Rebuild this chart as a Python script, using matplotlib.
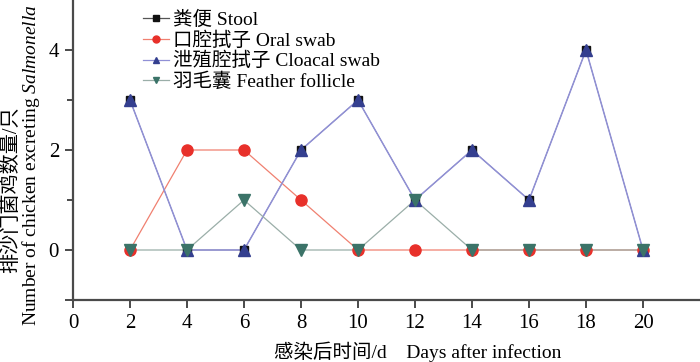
import matplotlib
matplotlib.use("Agg")
import matplotlib.pyplot as plt
from matplotlib.ticker import FixedLocator

plt.rcParams['font.family'] = ['Liberation Serif', 'Noto Sans CJK SC']
plt.rcParams['mathtext.fontset'] = 'custom'
plt.rcParams['mathtext.rm'] = 'Liberation Serif'
plt.rcParams['mathtext.it'] = 'Liberation Serif:italic'

days = [2, 4, 6, 8, 10, 12, 14, 16, 18, 20]
stool = [3, 0, 0, 2, 3, 1, 2, 1, 4, 0]
oral = [0, 2, 2, 1, 0, 0, 0, 0, 0, 0]
cloacal = [3, 0, 0, 2, 3, 1, 2, 1, 4, 0]
feather = [0, 0, 1, 0, 0, 1, 0, 0, 0, 0]

labels = ["粪便 Stool", "口腔拭子 Oral swab", "泄殖腔拭子 Cloacal swab", "羽毛囊 Feather follicle"]

fig = plt.figure(figsize=(7, 3.62), dpi=100)
ax = fig.add_axes([73 / 700, 62 / 362, 627 / 700, 300 / 362])

# 线在下, 标记在上
series = [
    (stool, "s", "#111111", "#555555", 5.5, 0.5),
    (oral, "o", "#e8302a", "#f08070", 8, 0.9),
    (cloacal, "^", "#343f8f", "#9090d6", 8, 1.1),
    (feather, "v", "#3b7368", "#9aaea8", 8, 0.9),
]
handles = []
for i, (vals, mk, mc, lc, ms, lw) in enumerate(series):
    ax.plot(days, vals, color=lc, lw=lw, zorder=2 + i * 0.1)
    h, = ax.plot([], [], color=lc, lw=0.9, marker=mk, mfc=mc, mec=mc, ms=5)
    handles.append(h)

marker_order = [2, 0, 1, 3]
for i in marker_order:
    vals, mk, mc, lc, ms, lw = series[i]
    ax.plot(days, vals, ls="none", marker=mk, mfc=mc, mec=mc, ms=ms, zorder=4 + i * 0.1)

ax.set_xlim(0, 22)
ax.set_ylim(-1, 5)
ax.set_xticks(range(0, 21, 2))
ax.yaxis.set_major_locator(FixedLocator([-1, 0, 2, 4]))
ax.set_yticklabels(["", "0", "2", "4"])
ax.yaxis.set_minor_locator(FixedLocator([1, 3]))

for s in ["top", "right"]:
    ax.spines[s].set_visible(False)
for s in ["left", "bottom"]:
    ax.spines[s].set_color("#4a4a4a")
    ax.spines[s].set_linewidth(1.6)
ax.tick_params(which="major", direction="out", length=6, width=1.4, color="#4a4a4a",
               labelsize=15, pad=4)
ax.tick_params(which="minor", direction="out", length=4, width=1.4, color="#4a4a4a")

ax.set_xlabel("感染后时间/d    Days after infection", fontsize=14)
ax.xaxis.set_label_coords(0.55, -0.14)

fig.text(12 / 700, 1 - 190 / 362, "排沙门菌鸡数量/只", rotation=90, fontsize=14.5,
         ha="center", va="center")
fig.text(31 / 700, 1 - 165 / 362, r"Number of chicken excreting $\mathit{Salmonella}$",
         rotation=90, fontsize=14, ha="center", va="center")

ax.legend(handles, labels, loc="upper left", bbox_to_anchor=(0.1, 0.99), frameon=False,
          fontsize=14, handlelength=1.3, handletextpad=0.2, labelspacing=0.12,
          borderaxespad=0)

fig.savefig("out.png", dpi=100)
